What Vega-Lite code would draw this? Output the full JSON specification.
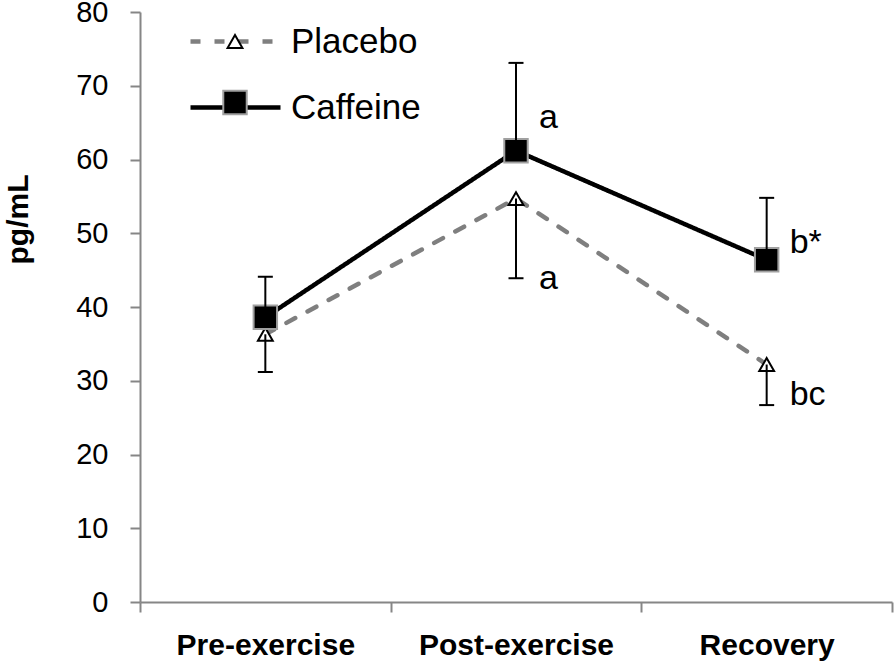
{
  "$schema": "https://vega.github.io/schema/vega-lite/v6.json",
  "width": 752,
  "height": 590,
  "autosize": {"type": "none"},
  "padding": {"left": 140, "top": 12, "right": 4, "bottom": 61},
  "background": "white",
  "config": {
    "view": {"stroke": null},
    "font": "Liberation Sans",
    "axis": {"labelFont": "Liberation Sans", "titleFont": "Liberation Sans"},
    "legend": {"labelFont": "Liberation Sans"}
  },
  "datasets": {
    "means": [
      {"phase": "Pre-exercise", "series": "Placebo", "mean": 36.3, "err": 31.2},
      {"phase": "Post-exercise", "series": "Placebo", "mean": 54.7, "err": 43.9},
      {"phase": "Recovery", "series": "Placebo", "mean": 32.2, "err": 26.7},
      {"phase": "Pre-exercise", "series": "Caffeine", "mean": 38.6, "err": 44.1},
      {"phase": "Post-exercise", "series": "Caffeine", "mean": 61.2, "err": 73.1},
      {"phase": "Recovery", "series": "Caffeine", "mean": 46.4, "err": 54.8}
    ],
    "notes": [
      {"phase": "Post-exercise", "series": "Caffeine", "note": "a", "at": 64.3},
      {"phase": "Post-exercise", "series": "Placebo", "note": "a", "at": 42.4},
      {"phase": "Recovery", "series": "Caffeine", "note": "b*", "at": 47.3},
      {"phase": "Recovery", "series": "Placebo", "note": "bc", "at": 26.7}
    ]
  },
  "encoding": {
    "x": {
      "field": "phase",
      "type": "nominal",
      "sort": ["Pre-exercise", "Post-exercise", "Recovery"],
      "scale": {"type": "band", "paddingInner": 0, "paddingOuter": 0},
      "axis": {
        "title": null,
        "labelAngle": 0,
        "labelFontSize": 30,
        "labelFontWeight": "bold",
        "labelColor": "black",
        "labelPadding": 18,
        "labelLimit": 400,
        "tickBand": "extent",
        "tickSize": 10,
        "tickWidth": 2,
        "tickColor": "#868686",
        "domainColor": "#868686",
        "domainWidth": 2,
        "grid": false
      }
    }
  },
  "layer": [
    {
      "data": {"name": "means"},
      "mark": {"type": "line", "strokeWidth": 4.5, "strokeCap": "round"},
      "encoding": {
        "y": {
          "field": "mean",
          "type": "quantitative",
          "scale": {"domain": [0, 80]},
          "axis": {
            "title": "pg/mL",
            "values": [0, 10, 20, 30, 40, 50, 60, 70, 80],
            "grid": false,
            "tickSize": 10,
            "tickWidth": 2,
            "tickColor": "#868686",
            "domainColor": "#868686",
            "domainWidth": 2,
            "labelFontSize": 29,
            "labelColor": "black",
            "labelPadding": 22,
            "titleFontSize": 30,
            "titleFontWeight": "bold",
            "titleColor": "black",
            "titleAngle": -90,
            "titleAlign": "center",
            "titleBaseline": "alphabetic",
            "titleX": -113,
            "titleY": 207
          }
        },
        "color": {
          "field": "series",
          "type": "nominal",
          "scale": {"domain": ["Placebo", "Caffeine"], "range": ["#7f7f7f", "#000000"]},
          "legend": {
            "orient": "none",
            "legendX": 48,
            "legendY": -18,
            "title": null,
            "padding": 0,
            "symbolType": "stroke",
            "symbolSize": 8100,
            "symbolStrokeWidth": 4.5,
            "labelFontSize": 35,
            "labelColor": "black",
            "labelOffset": 8,
            "rowPadding": -9
          }
        },
        "strokeDash": {
          "field": "series",
          "type": "nominal",
          "scale": {"domain": ["Placebo", "Caffeine"], "range": [[10, 14], [1, 0]]},
          "legend": {
            "orient": "none",
            "legendX": 48,
            "legendY": -18,
            "title": null,
            "padding": 0,
            "symbolType": "stroke",
            "symbolSize": 8100,
            "symbolStrokeWidth": 4.5,
            "labelFontSize": 35,
            "labelColor": "black",
            "labelOffset": 8,
            "rowPadding": -9
          }
        }
      }
    },
    {
      "data": {"name": "means"},
      "mark": {"type": "point", "filled": true, "opacity": 1, "strokeWidth": 2},
      "encoding": {
        "y": {"field": "mean", "type": "quantitative"},
        "shape": {
          "field": "series",
          "type": "nominal",
          "sort": "descending",
          "scale": {"range": ["triangle-up", "square"]},
          "legend": {
            "orient": "top-left",
            "offset": 12,
            "symbolOffset": 65.5,
            "title": null,
            "padding": 0,
            "labelFontSize": 35,
            "labelExpr": "''",
            "symbolStrokeWidth": 2,
            "symbolOpacity": 1,
            "rowPadding": 25
          }
        },
        "fill": {
          "field": "series",
          "type": "nominal",
          "sort": "descending",
          "scale": {"range": ["#ffffff", "#000000"]},
          "legend": {
            "orient": "top-left",
            "offset": 12,
            "symbolOffset": 65.5,
            "title": null,
            "padding": 0,
            "labelFontSize": 35,
            "labelExpr": "''",
            "symbolStrokeWidth": 2,
            "symbolOpacity": 1,
            "rowPadding": 25
          }
        },
        "stroke": {
          "field": "series",
          "type": "nominal",
          "sort": "descending",
          "scale": {"range": ["#000000", "#a0a0a0"]},
          "legend": {
            "orient": "top-left",
            "offset": 12,
            "symbolOffset": 65.5,
            "title": null,
            "padding": 0,
            "labelFontSize": 35,
            "labelExpr": "''",
            "symbolStrokeWidth": 2,
            "symbolOpacity": 1,
            "rowPadding": 25
          }
        },
        "size": {
          "field": "series",
          "type": "nominal",
          "sort": "descending",
          "scale": {"range": [220, 550]},
          "legend": {
            "orient": "top-left",
            "offset": 12,
            "symbolOffset": 65.5,
            "title": null,
            "padding": 0,
            "labelFontSize": 35,
            "labelExpr": "''",
            "symbolStrokeWidth": 2,
            "symbolOpacity": 1,
            "rowPadding": 25
          }
        }
      }
    },
    {
      "data": {"name": "means"},
      "mark": {"type": "rule", "color": "black", "strokeWidth": 2},
      "encoding": {
        "y": {"field": "mean", "type": "quantitative"},
        "y2": {"field": "err"}
      }
    },
    {
      "data": {"name": "means"},
      "mark": {"type": "tick", "color": "black", "thickness": 2, "size": 15, "opacity": 1},
      "encoding": {
        "y": {"field": "err", "type": "quantitative"}
      }
    },
    {
      "data": {"name": "notes"},
      "mark": {"type": "text", "align": "left", "baseline": "alphabetic", "dx": 23, "fontSize": 34, "color": "black", "font": "Liberation Sans"},
      "encoding": {
        "y": {"field": "at", "type": "quantitative"},
        "text": {"field": "note"}
      }
    }
  ]
}
